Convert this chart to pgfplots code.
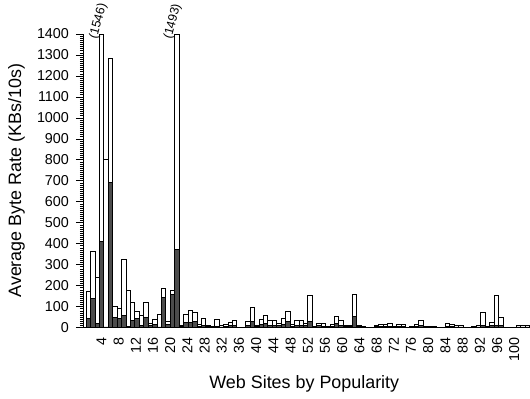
\documentclass[border=0pt]{standalone}
\usepackage{pgfplots}
\pgfplotsset{compat=1.18}
\usepackage{pgfplotstable}
\usepackage{fontspec}
\setmainfont{Liberation Sans}

\pgfplotstableread{
site total dark
1 174 43
2 365 141
3 238 20
4 1546 410
5 801 3
6 1285 690
7 103 50
8 93 43
9 325 56
10 178 6
11 120 33
12 77 43
13 60 8
14 122 46
15 18 8
16 40 16
17 62 3
18 186 142
19 30 15
20 175 156
21 1493 372
22 10 4
23 61 25
24 83 25
25 70 30
26 16 5
27 43 8
28 10 4
29 4 2
30 40 6
31 9 3
32 14 5
33 24 8
34 32 10
35 3 1
36 3 1
37 31 8
38 96 27
39 12 4
40 39 15
41 56 18
42 32 10
43 33 10
44 20 8
45 42 15
46 76 30
47 15 5
48 34 10
49 34 10
50 20 8
51 153 30
52 4 2
53 22 10
54 19 6
55 5 2
56 15 5
57 55 20
58 33 12
59 11 4
60 11 4
61 158 52
62 12 4
63 4 2
64 2 1
65 2 1
66 12 4
67 14 4
68 14 5
69 18 6
70 5 2
71 14 5
72 14 5
73 3 1
74 6 2
75 14 4
76 33 8
77 4 1
78 5 2
79 4 1
80 3 1
81 3 1
82 22 6
83 14 4
84 10 3
85 10 3
86 2 1
87 3 1
88 5 2
89 10 3
90 70 8
91 5 2
92 25 8
93 153 10
94 49 8
95 3 1
96 3 1
97 3 1
98 10 3
99 10 3
100 10 3
}\sitedata

\begin{document}
\begin{tikzpicture}
\begin{axis}[
  scale only axis, width=444bp, height=294bp,
  xmin=0, xmax=100, ymin=0, ymax=1400,
  clip=false,
  axis x line*=bottom, axis y line*=left,
  axis line style={-, line width=0.8pt},
  xtick={3.94,7.82,...,97.1},
  xticklabels={4,8,12,16,20,24,28,32,36,40,44,48,52,56,60,64,68,72,76,80,84,88,92,96,100},
  ytick={0,100,...,1400},
  minor y tick num=9,
  tick align=outside,
  major tick length=8bp, minor tick length=4bp,
  every x tick/.style={draw=none},
  tick style={line width=0.6pt, black},
  /pgf/number format/assume math mode=true,
  /pgf/number format/1000 sep={},
  ticklabel style={font=\fontsize{14.4}{17}\selectfont},
  xticklabel style={rotate=90, anchor=east, inner sep=0pt},
  xticklabel shift=2bp,
  yticklabel shift=3.5bp,
  xlabel={Web Sites by Popularity},
  ylabel={Average Byte Rate (KBs/10s)},
  label style={font=\fontsize{18}{21}\selectfont},
  xlabel style={at={(axis description cs:0.497,-0.19)}, anchor=center},
  ylabel style={at={(axis description cs:-0.152,0.5)}, anchor=center},
]
\addplot[ybar, bar width=1, bar shift=0pt, fill=white, draw=black, line width=0.9pt,
  y filter/.code={\pgfmathparse{min(\pgfmathresult,1400)}}]
  table[x=site, y=total]{\sitedata};
\addplot[ybar, bar width=1, bar shift=0pt, fill=black!70, draw=black, line width=0.9pt]
  table[x=site, y=dark]{\sitedata};
\node[rotate=75, inner sep=0pt, font=\fontsize{12.5}{14}\selectfont] at (axis cs:3.27,1460) {(1546)};
\node[rotate=75, inner sep=0pt, font=\fontsize{12.5}{14}\selectfont] at (axis cs:20.05,1458) {(1493)};
\coordinate (O) at (axis cs:0,0);
\end{axis}
\path (O) ++(-84bp,-71bp) rectangle ++(530bp,399bp);
\end{tikzpicture}
\end{document}
